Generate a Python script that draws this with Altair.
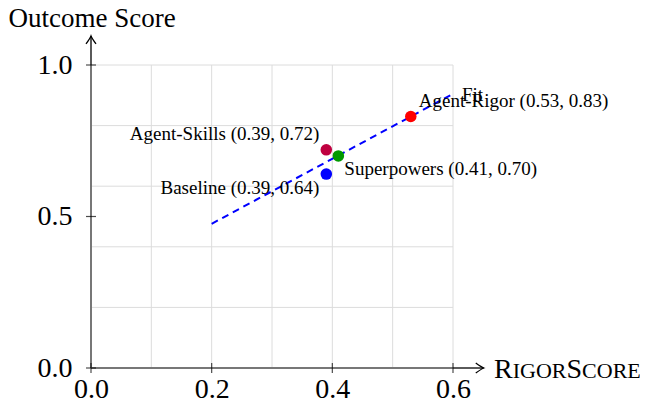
import altair as alt
import pandas as pd

# ---- data ----
names = ["Baseline", "Agent-Skills", "Superpowers", "Agent-Rigor"]
rigor = [0.39, 0.39, 0.41, 0.53]
outcome = [0.64, 0.72, 0.70, 0.83]
colors = ["#0000ff", "#bf0040", "#009900", "#ff0000"]

fit_x = [0.2, 0.6]
fit_y = [0.476, 0.905]

x_ticks = [0.0, 0.2, 0.4, 0.6]
y_ticks = [0.0, 0.5, 1.0]
x_grid = [0.1, 0.2, 0.3, 0.4, 0.5, 0.6]
y_grid = [0.2, 0.4, 0.6, 0.8, 1.0]
x_axis_end = 0.651
y_axis_end = 1.096

x_title_parts = ["R", "IGOR", "S", "CORE"]

FONT = "Liberation Serif"
W, H = 362, 303

xs = alt.Scale(domain=[0, 0.6], nice=False, zero=False)
ys = alt.Scale(domain=[0, 1.0], nice=False, zero=False)
xa = alt.Axis(values=x_ticks, format=".1f", grid=False, domain=False, ticks=False,
              labelFont=FONT, labelFontSize=28, labelColor="black", labelPadding=7,
              labelFlush=False, title=None)
ya = alt.Axis(values=y_ticks, format=".1f", grid=False, domain=False, ticks=False,
              labelFont=FONT, labelFontSize=28, labelColor="black", labelPadding=19,
              labelFlush=False, title="Outcome Score", titleAngle=0, titleX=-83, titleY=-39,
              titleAlign="left", titleBaseline="alphabetic", titleFont=FONT,
              titleFontSize=27, titleFontWeight="normal", titleColor="black")


def X(f):
    return alt.X(f, type="quantitative", scale=xs, axis=xa)


def Y(f):
    return alt.Y(f, type="quantitative", scale=ys, axis=ya)


def XD(v):
    return alt.XDatum(v, type="quantitative", scale=xs, axis=xa)


def YD(v):
    return alt.YDatum(v, type="quantitative", scale=ys, axis=ya)


one = pd.DataFrame({"k": [0]})

pts = pd.DataFrame({"name": names, "rigor": rigor, "outcome": outcome})
pts["label"] = [f"{n} ({x:.2f}, {y:.2f})" for n, x, y in zip(names, rigor, outcome)]

vgrid = alt.Chart(pd.DataFrame({"gx": x_grid})).mark_rule(color="#dcdcdc", strokeWidth=1).encode(
    x=X("gx"), y=YD(0), y2=alt.Y2Datum(1.0))
hgrid = alt.Chart(pd.DataFrame({"gy": y_grid})).mark_rule(color="#dcdcdc", strokeWidth=1).encode(
    y=Y("gy"), x=XD(0), x2=alt.X2Datum(0.6))

xaxis_in = alt.Chart(one).mark_rule(color="#777777", strokeWidth=2).encode(
    x=XD(0), x2=alt.X2Datum(0.6), y=YD(0))
xaxis_out = alt.Chart(one).mark_rule(color="black", strokeWidth=1.3).encode(
    x=XD(0.6), x2=alt.X2Datum(x_axis_end), y=YD(0))
yaxis_in = alt.Chart(one).mark_rule(color="#777777", strokeWidth=2).encode(
    x=XD(0), y=YD(0), y2=alt.Y2Datum(1.0))
yaxis_out = alt.Chart(one).mark_rule(color="black", strokeWidth=1.3).encode(
    x=XD(0), y=YD(1.0), y2=alt.Y2Datum(y_axis_end))

x_arrow = alt.Chart(one).mark_point(
    shape="M-1.6,-1 Q-0.4,-0.15 0,0 Q-0.4,0.15 -1.6,1", filled=False, stroke="black",
    strokeWidth=1.3, size=100, opacity=1).encode(x=XD(x_axis_end), y=YD(0))
y_arrow = alt.Chart(one).mark_point(
    shape="M-1,1.6 Q-0.15,0.4 0,0 Q0.15,0.4 1,1.6", filled=False, stroke="black",
    strokeWidth=1.3, size=100, opacity=1).encode(x=XD(0), y=YD(y_axis_end))

xticks = alt.Chart(pd.DataFrame({"t": x_ticks})).mark_tick(
    orient="vertical", color="black", size=10, thickness=1.2).encode(x=X("t"), y=YD(0))
yticks = alt.Chart(pd.DataFrame({"t": y_ticks})).mark_tick(
    orient="horizontal", color="black", size=10, thickness=1.2).encode(y=Y("t"), x=XD(0))

fit = alt.Chart(pd.DataFrame({"fx": fit_x, "fy": fit_y})).mark_line(
    color="#0000ff", strokeWidth=2, strokeDash=[7, 5]).encode(x=X("fx"), y=Y("fy"))
fit_label = alt.Chart(pd.DataFrame({"fx": fit_x[-1:], "fy": fit_y[-1:], "t": ["Fit"]})).mark_text(
    font=FONT, fontSize=19, align="left", baseline="alphabetic", dx=9, dy=7, color="black").encode(
    x=X("fx"), y=Y("fy"), text="t:N")

points = alt.Chart(pts).mark_circle(size=133, opacity=1).encode(
    x=X("rigor"), y=Y("outcome"),
    color=alt.Color("name:N", scale=alt.Scale(domain=names, range=colors), legend=None))

placement = {
    "Baseline": ("right", -7, 20),
    "Agent-Skills": ("right", -7, -10),
    "Superpowers": ("left", 6, 19),
    "Agent-Rigor": ("left", 8, -10),
}
label_layers = []
for n in names:
    al, dx, dy = placement[n]
    label_layers.append(
        alt.Chart(pts).transform_filter(alt.datum.name == n).mark_text(
            font=FONT, fontSize=19, align=al, baseline="alphabetic", dx=dx, dy=dy, color="black"
        ).encode(x=X("rigor"), y=Y("outcome"), text="label:N"))

# small-caps x-axis title pieces
part_sizes = [28, 22, 28, 22]
part_x = [403, 421.7, 475.5, 491.1]
title_layers = []
for p, s, px in zip(x_title_parts, part_sizes, part_x):
    title_layers.append(
        alt.Chart(pd.DataFrame({"t": [p]})).mark_text(
            font=FONT, fontSize=s, align="left", baseline="alphabetic", color="black"
        ).encode(x=alt.value(px), y=alt.value(313), text="t:N"))

chart = alt.layer(
    vgrid, hgrid, fit, xaxis_in, xaxis_out, yaxis_in, yaxis_out, x_arrow, y_arrow,
    xticks, yticks, points, fit_label, *label_layers, *title_layers
).properties(
    width=W, height=H,
    autosize=alt.AutoSizeParams(type="none"),
    padding={"left": 83, "top": 57, "right": 187, "bottom": 37},
    background="white",
).configure_view(stroke=None)

chart.save("out.html", embed_options={"renderer": "svg", "actions": False})
